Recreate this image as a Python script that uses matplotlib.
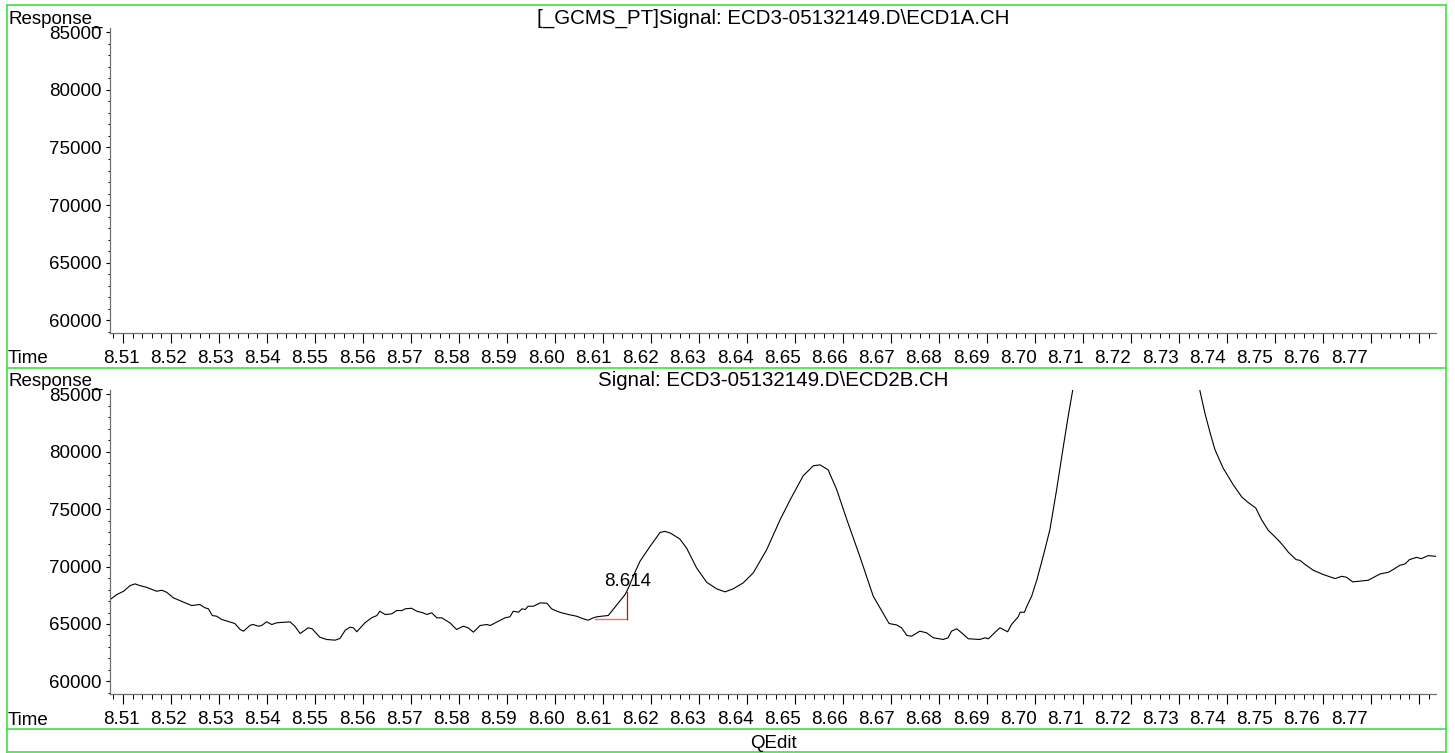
import numpy as np
import matplotlib
matplotlib.use("Agg")
import matplotlib.pyplot as plt
import matplotlib.transforms as mtransforms
from matplotlib.lines import Line2D
from matplotlib.ticker import MultipleLocator

plt.rcParams['font.family'] = ['Liberation Sans', 'DejaVu Sans']

# ECD2B trace (time in min, response)
time = [8.5075, 8.5087, 8.5101, 8.5115, 8.5125, 8.5135, 8.5149, 8.5170, 8.5181, 8.5191,
        8.5205, 8.5222, 8.5243, 8.5260, 8.5271, 8.5278, 8.5286, 8.5295, 8.5306, 8.5333,
        8.5344, 8.5351, 8.5365, 8.5371, 8.5382, 8.5389, 8.5399, 8.5410, 8.5420, 8.5448,
        8.5458, 8.5469, 8.5486, 8.5494, 8.5510, 8.5524, 8.5542, 8.5552, 8.5563, 8.5573,
        8.5580, 8.5587, 8.5604, 8.5618, 8.5629, 8.5635, 8.5646, 8.5660, 8.5670, 8.5681,
        8.5688, 8.5701, 8.5712, 8.5725, 8.5733, 8.5743, 8.5754, 8.5764, 8.5781, 8.5795,
        8.5809, 8.5819, 8.5830, 8.5844, 8.5858, 8.5865, 8.5882, 8.5896, 8.5906, 8.5913,
        8.5924, 8.5931, 8.5938, 8.5944, 8.5955, 8.5969, 8.5983, 8.5993, 8.6004, 8.6014,
        8.6028, 8.6045, 8.6059, 8.6069, 8.6080, 8.6087, 8.6097, 8.6111, 8.6121, 8.6135,
        8.6146, 8.6153, 8.6166, 8.6177, 8.6198, 8.6219, 8.6229, 8.6240, 8.6260, 8.6274,
        8.6295, 8.6316, 8.6337, 8.6354, 8.6371, 8.6392, 8.6413, 8.6441, 8.6469, 8.6490,
        8.6517, 8.6538, 8.6552, 8.6569, 8.6587, 8.6608, 8.6635, 8.6663, 8.6681, 8.6696,
        8.6712, 8.6722, 8.6733, 8.6743, 8.6760, 8.6774, 8.6788, 8.6809, 8.6819, 8.6826,
        8.6837, 8.6847, 8.6861, 8.6885, 8.6896, 8.6903, 8.6917, 8.6927, 8.6943, 8.6951,
        8.6965, 8.6969, 8.6978, 8.6983, 8.6993, 8.7004, 8.7017, 8.7031, 8.7045, 8.7059,
        8.7069, 8.7078, 8.7083, 8.7225, 8.7338, 8.7344, 8.7354, 8.7365, 8.7375, 8.7392,
        8.7413, 8.7431, 8.7444, 8.7460, 8.7472, 8.7486, 8.7504, 8.7517, 8.7528, 8.7544,
        8.7552, 8.7563, 8.7580, 8.7601, 8.7625, 8.7639, 8.7649, 8.7662, 8.7694, 8.7719,
        8.7736, 8.7746, 8.7760, 8.7771, 8.7780, 8.7795, 8.7805, 8.7819, 8.7835]
response = [67190, 67565, 67852, 68348, 68496, 68348, 68200, 67852, 67939, 67765,
            67278, 66982, 66609, 66696, 66409, 66322, 65739, 65678, 65391, 65043,
            64522, 64374, 64895, 64956, 64809, 64869, 65191, 64956, 65104, 65191,
            64809, 64174, 64669, 64582, 63852, 63652, 63591, 63739, 64461, 64722,
            64669, 64321, 65104, 65539, 65739, 66113, 65826, 65887, 66174, 66174,
            66322, 66374, 66113, 65974, 65826, 65974, 65539, 65539, 65104, 64522,
            64809, 64669, 64287, 64869, 64956, 64869, 65243, 65539, 65626, 66113,
            66026, 66322, 66261, 66548, 66548, 66843, 66809, 66322, 66113, 65974,
            65826, 65678, 65452, 65330, 65539, 65626, 65678, 65739, 66261, 66983,
            67565, 68148, 69452, 70461, 71765, 72983, 73070, 72931, 72409, 71626,
            69887, 68635, 68061, 67800, 68061, 68583, 69452, 71478, 74087, 75826,
            77913, 78783, 78870, 78435, 76696, 74087, 70896, 67417, 66113, 65043,
            64913, 64669, 64000, 63939, 64374, 64235, 63800, 63652, 63800, 64374,
            64582, 64235, 63713, 63652, 63800, 63713, 64287, 64669, 64322, 64956,
            65626, 66026, 66026, 66548, 67417, 68870, 70896, 73217, 76696, 80461,
            83070, 85244, 86670, 110000, 86700, 85244, 83366, 81627, 80174, 78583,
            77131, 76061, 75592, 75105, 74087, 73157, 72435, 71826, 71244, 70609,
            70548, 70174, 69678, 69304, 68957, 69157, 69070, 68670, 68809, 69365,
            69504, 69739, 70113, 70235, 70609, 70809, 70696, 70957, 70896]

# integration mark for the peak at 8.614
base_t = [8.6083, 8.6151]
base_v = [65425, 67814]
peak_label = '8.614'

tick_labels = ['%.2f' % (8.51 + 0.01 * i) for i in range(27)]
# the software prints tick labels at a slightly smaller pitch than the ticks
label_pos = [8.50958 + 0.00984 * i for i in range(27)]

titles = ['[_GCMS_PT]Signal: ECD3-05132149.D\\ECD1A.CH',
          'Signal: ECD3-05132149.D\\ECD2B.CH']

W, H = 1455, 753
FS = 13.5
FS_TITLE = 14.8
green = '#3fe23f'

fig = plt.figure(figsize=(W / 100, H / 100), dpi=100)

def fx(px):
    return px / W

def fy(py):
    return 1 - py / H

def make_axes(top_px, bot_px, ylim):
    ax = fig.add_axes([fx(110), fy(bot_px), fx(1436) - fx(110), (bot_px - top_px) / H])
    ax.set_xlim(8.50729, 8.78354)
    ax.set_ylim(*ylim)
    for s in ['top', 'right']:
        ax.spines[s].set_visible(False)
    for s in ['left', 'bottom']:
        ax.spines[s].set_color('#707070')
        ax.spines[s].set_linewidth(0.9)
    ax.xaxis.set_major_locator(MultipleLocator(0.01))
    ax.xaxis.set_minor_locator(MultipleLocator(0.002))
    ax.yaxis.set_major_locator(MultipleLocator(5000))
    ax.yaxis.set_minor_locator(MultipleLocator(1000))
    ax.tick_params(axis='x', which='major', length=7.2, width=0.8, labelbottom=False)
    ax.tick_params(axis='x', which='minor', length=3.6, width=0.7)
    ax.tick_params(axis='y', which='major', length=3, width=0.8, pad=3, labelsize=FS)
    ax.tick_params(axis='y', which='minor', length=1.5, width=0.7)
    off = mtransforms.offset_copy(
        mtransforms.blended_transform_factory(ax.transData, ax.transAxes),
        fig=fig, y=-30, units='dots')
    for pos, lab in zip(label_pos, tick_labels):
        ax.text(pos, 0, lab, transform=off, ha='center', va='baseline',
                fontsize=FS, clip_on=False)
    return ax

ax1 = make_axes(28, 333, (58870, 85391))
ax2 = make_axes(390, 694, (58900, 85391))

ax2.plot(time, response, color='black', lw=0.8)
ax2.plot([base_t[0], base_t[1]], [base_v[0], base_v[0]], color='#f07070', lw=1.0)
ax2.plot([base_t[1], base_t[1]], [base_v[0], base_v[1]], color='#e00000', lw=0.9)
ax2.annotate(peak_label, (base_t[1], base_v[1]), xytext=(0, 2), textcoords='offset pixels',
             ha='center', va='bottom', fontsize=FS)

# panel texts
for off_px, title in zip([0, 362], titles):
    fig.text(fx(8), fy(24 + off_px), 'Response_', fontsize=FS, va='baseline')
    fig.text(fx(773), fy(24 + off_px), title, fontsize=FS_TITLE, va='baseline', ha='center')
    fig.text(fx(8), fy(363 + off_px), 'Time', fontsize=FS, va='baseline')
fig.text(fx(773), fy(744), 'QEdit', fontsize=FS, va='center', ha='center')

# green frame
frame = [([7, 1446], [5, 5]), ([7, 1446], [368, 368]), ([7, 1446], [729, 729]),
         ([7, 1446], [752, 752]), ([7, 7], [5, 752]), ([1446, 1446], [5, 752])]
for xs, ys in frame:
    fig.add_artist(Line2D([fx(x) for x in xs], [fy(y) for y in ys],
                          transform=fig.transFigure, color=green, lw=1.2))

fig.savefig('out.png', dpi=100, facecolor='white')
